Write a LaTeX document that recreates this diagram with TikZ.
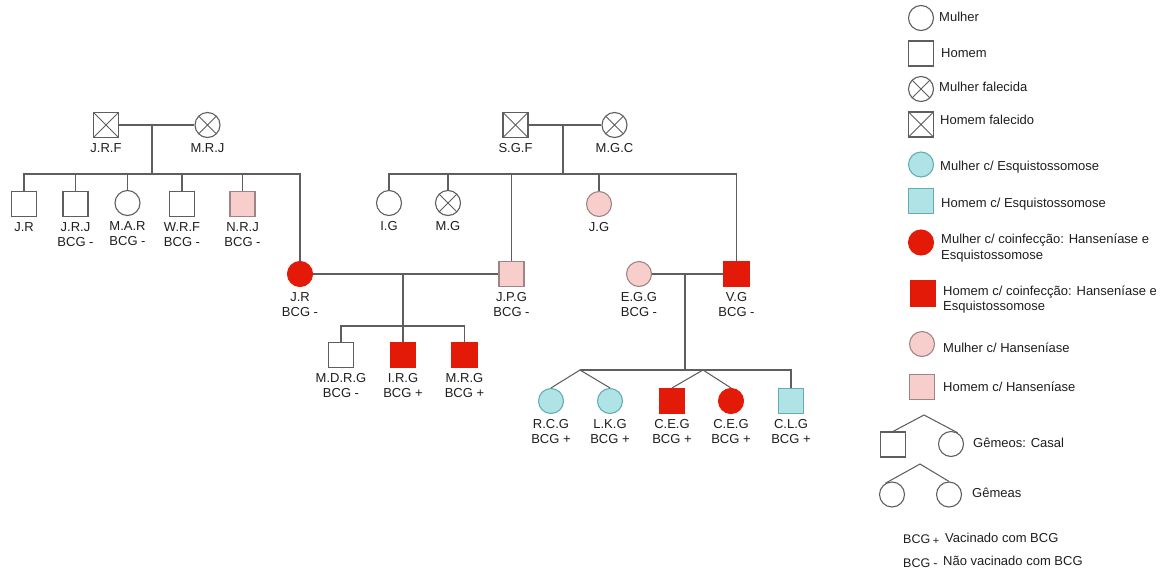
\documentclass[tikz,border=0pt]{standalone}
\usepackage{fontspec}
\setmainfont{Liberation Sans}
\definecolor{lineg}{HTML}{5E5E5E}
\definecolor{txt}{HTML}{1E1E1E}
\definecolor{redf}{HTML}{E31A08}
\definecolor{pinkf}{HTML}{F8CECC}
\definecolor{pinkd}{HTML}{9E8585}
\definecolor{cyanf}{HTML}{B0E3E6}
\definecolor{cyand}{HTML}{62AFB3}
\begin{document}
\begin{tikzpicture}[x=1pt,y=1pt,
  person/.style={draw=lineg, line width=1.1pt, minimum size=25pt, inner sep=0pt, fill=white},
  fem/.style={person, circle},
  mal/.style={person, rectangle},
  deadm/.style={path picture={\draw[lineg,line width=0.9pt]
     (path picture bounding box.north west) -- (path picture bounding box.south east)
     (path picture bounding box.north east) -- (path picture bounding box.south west);}},
  deadf/.style={path picture={\draw[lineg,line width=0.9pt]
     ([shift={(45:12.5)}]path picture bounding box.center) -- ([shift={(225:12.5)}]path picture bounding box.center)
     ([shift={(135:12.5)}]path picture bounding box.center) -- ([shift={(-45:12.5)}]path picture bounding box.center);}},
  hans/.style={fill=pinkf, draw=pinkd},
  esq/.style={fill=cyanf, draw=cyand},
  coinf/.style={fill=redf, draw=redf},
  lab/.style={font=\fontsize{13}{15.5}\selectfont, align=center, inner sep=0pt, text=txt},
  legt/.style={font=\fontsize{13}{15.5}\selectfont, inner sep=0pt, text=txt, anchor=base west},
  legs/.style={font=\fontsize{12.5}{14}\selectfont, inner sep=0pt, text=txt, anchor=base west},
  edge/.style={draw=lineg, line width=1.05pt},
  label distance=5pt]
\useasboundingbox (0,0) rectangle (1164,-574);

% ---------- generation 1, left ----------
\node[mal,deadm,label={[lab]below:J.R.F}] (JRF) at (106,-125) {};
\node[fem,deadf,label={[lab]below:M.R.J}] (MRJ) at (207.5,-125) {};
\coordinate (m1) at (152,-125);
\coordinate (s1) at (152,-174);
\coordinate (c1) at (300,-174);
\node[mal,label={[lab]below:J.R}] (JRa) at (24,-204) {};
\node[mal,label={[lab]below:J.R.J\\BCG -}] (JRJ) at (75.5,-204) {};
\node[fem,label={[lab]below:M.A.R\\BCG -}] (MAR) at (127.5,-203) {};
\node[mal,label={[lab]below:W.R.F\\BCG -}] (WRF) at (182,-204) {};
\node[mal,hans,label={[lab]below:N.R.J\\BCG -}] (NRJ) at (242.5,-204) {};

% ---------- generation 1, right ----------
\node[mal,deadm,label={[lab]below:S.G.F}] (SGF) at (515.5,-125) {};
\node[fem,deadf,label={[lab]below:M.G.C}] (MGC) at (614.5,-125) {};
\coordinate (m2) at (563,-125);
\coordinate (s2) at (563,-174);
\node[fem,label={[lab]below:I.G}] (IG) at (389,-203) {};
\node[fem,deadf,label={[lab]below:M.G}] (MG) at (448,-203) {};
\node[fem,hans,label={[lab]below:J.G}] (JG) at (599,-204) {};

% ---------- generation 2 ----------
\node[fem,coinf,label={[lab]below:J.R\\BCG -}] (JRb) at (300,-274) {};
\node[mal,hans,label={[lab]below:J.P.G\\BCG -}] (JPG) at (511.5,-274) {};
\node[fem,hans,label={[lab]below:E.G.G\\BCG -}] (EGG) at (639,-274) {};
\node[mal,coinf,label={[lab]below:V.G\\BCG -}] (VG) at (736.5,-274) {};
\coordinate (m3) at (403,-274);
\coordinate (s3) at (403,-326);
\coordinate (m4) at (685,-274);
\coordinate (s4) at (685,-370);

% ---------- generation 3 ----------
\node[mal,label={[lab]below:M.D.R.G\\BCG -}] (MDRG) at (341,-355) {};
\node[mal,coinf,label={[lab]below:I.R.G\\BCG +}] (IRG) at (403,-355) {};
\node[mal,coinf,label={[lab]below:M.R.G\\BCG +}] (MRG) at (464.5,-355) {};

\node[fem,esq,label={[lab]below:R.C.G\\BCG +}] (RCG) at (551,-401) {};
\node[fem,esq,label={[lab]below:L.K.G\\BCG +}] (LKG) at (610,-401) {};
\node[mal,coinf,label={[lab]below:C.E.G\\BCG +}] (CEGa) at (672,-401) {};
\node[fem,coinf,label={[lab]below:C.E.G\\BCG +}] (CEGb) at (731,-401) {};
\node[mal,esq,label={[lab]below:C.L.G\\BCG +}] (CLG) at (791,-401) {};
\coordinate (t1) at (580,-370);
\coordinate (t2) at (703,-370);

% ---------- connectors ----------
\draw[edge] (JRF) -- (MRJ);
\draw[edge] (m1) -- (s1);
\draw[edge] (JRa.north) |- (c1) -- (JRb.north);
\foreach \n in {JRJ,MAR,WRF,NRJ} \draw[edge] (\n.north) -- (\n.north |- s1);

\draw[edge] (SGF) -- (MGC);
\draw[edge] (m2) -- (s2);
\draw[edge] (IG.north) |- (VG.north |- s2) -- (VG.north);
\foreach \n in {MG,JG,JPG} \draw[edge] (\n.north) -- (\n.north |- s2);

\draw[edge] (JRb) -- (JPG);
\draw[edge] (m3) -- (IRG.north);
\draw[edge] (MDRG.north) |- (MRG.north |- s3) -- (MRG.north);

\draw[edge] (EGG) -- (VG);
\draw[edge] (m4) -- (s4);
\draw[edge] (t1) -- (CLG.north |- s4) -- (CLG.north);
\draw[edge] (RCG.north) -- (t1) -- (LKG.north);
\draw[edge] (CEGa.north) -- (t2) -- (CEGb.north);

% ---------- legend ----------
\node[fem] (L1) at (921,-18) {};
\node[legt] (L1t) at (939,-21.5) {Mulher};
\node[mal] (L2) at (921,-53.5) {};
\node[legt] (L2t) at (941,-57) {Homem};
\node[fem,deadf] (L3) at (921,-89) {};
\node[legt] (L3t) at (939,-91) {Mulher falecida};
\node[mal,deadm] (L4) at (921,-124.5) {};
\node[legt] (L4t) at (940,-124) {Homem falecido};
\node[fem,esq] (L5) at (921,-164.5) {};
\node[legt] (L5t) at (940,-170) {Mulher c/ Esquistossomose};
\node[mal,esq] (L6) at (921,-201) {};
\node[legt] (L6t) at (941,-207) {Homem c/ Esquistossomose};
\node[fem,coinf] (L7) at (921,-242.5) {};
\node[legt] (L7t) at (941,-243) {Mulher c/ coinfecção: Hanseníase e};
\node[legt] (L7u) at (941,-259) {Esquistossomose};
\node[mal,coinf] (L8) at (923,-293.5) {};
\node[legt] (L8t) at (943,-295) {Homem c/ coinfecção: Hanseníase e};
\node[legt] (L8u) at (943,-310.5) {Esquistossomose};
\node[fem,hans] (L9) at (922,-344) {};
\node[legt] (L9t) at (943,-352) {Mulher c/ Hanseníase};
\node[mal,hans] (L10) at (922,-387) {};
\node[legt] (L10t) at (943,-391) {Homem c/ Hanseníase};

\node[mal] (G1) at (893,-444.5) {};
\node[fem] (G2) at (951,-444) {};
\coordinate (ga) at (924,-415);
\draw[edge] (G1.north) -- (ga) -- (G2.60);
\node[legt] (G2t) at (973,-447) {Gêmeos: Casal};
\node[fem] (G3) at (892,-494.5) {};
\node[fem] (G4) at (949,-494.5) {};
\coordinate (gb) at (920,-464);
\draw[edge] (G3.120) -- (gb) -- (G4.north);
\node[legt] (G4t) at (972,-497) {Gêmeas};

\node[legs] (B1) at (903,-543.5) {BCG\hspace{2.5pt}\raisebox{-1pt}{\fontsize{11}{12}\selectfont +}};
\node[legt] (B1t) at (945,-542) {Vacinado com BCG};
\node[legs] (B2) at (903,-567) {BCG\hspace{3pt}-};
\node[legt] (B2t) at (943,-565.5) {Não vacinado com BCG};
\end{tikzpicture}
\end{document}
